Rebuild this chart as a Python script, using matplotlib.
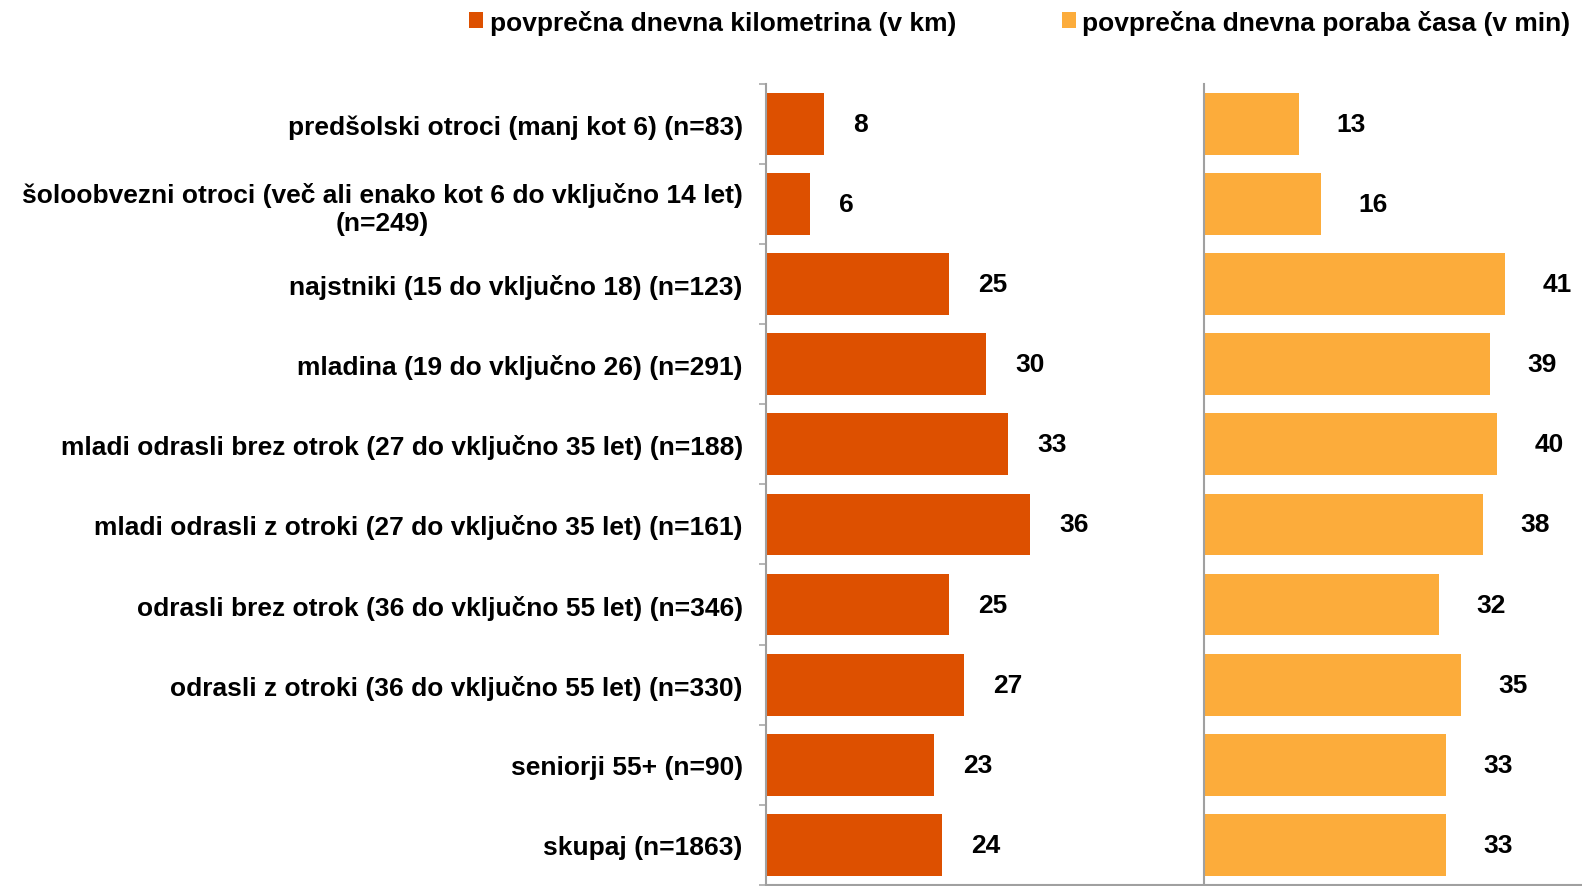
import matplotlib.pyplot as plt
import numpy as np

plt.rcParams['font.family'] = ['Liberation Sans', 'DejaVu Sans']
plt.rcParams['font.weight'] = 'bold'

# podatki
skupine = ['predšolski otroci (manj kot 6) (n=83)',
           'šoloobvezni otroci (več ali enako kot 6 do vključno 14 let)\n(n=249)',
           'najstniki (15 do vključno 18) (n=123)',
           'mladina (19 do vključno 26) (n=291)',
           'mladi odrasli brez otrok (27 do vključno 35 let) (n=188)',
           'mladi odrasli z otroki (27 do vključno 35 let) (n=161)',
           'odrasli brez otrok (36 do vključno 55 let) (n=346)',
           'odrasli z otroki (36 do vključno 55 let) (n=330)',
           'seniorji 55+ (n=90)',
           'skupaj (n=1863)']
km = [8, 6, 25, 30, 33, 36, 25, 27, 23, 24]
minute = [13, 16, 41, 39, 40, 38, 32, 35, 33, 33]

ime_km = 'povprečna dnevna kilometrina (v km)'
ime_min = 'povprečna dnevna poraba časa (v min)'

c_km = '#DD5000'
c_min = '#FCAC3B'
c_os = '#A0A0A0'
fs = 19

W, H = 1582, 887
fig = plt.figure(figsize=(W / 100, H / 100), dpi=100)

y = np.arange(len(skupine))
px_na_enoto = 7.333

# osi: zgoraj pri 84.7 px, spodaj pri 886 px
spodaj = 1 / H
visina = (886 - 84.7) / H
ax1 = fig.add_axes([765.7 / W, spodaj, 438.3 / W, visina])
ax2 = fig.add_axes([1204 / W, spodaj, (W - 1204) / W, visina])

b1 = ax1.barh(y, km, height=0.77, color=c_km)
b2 = ax2.barh(y, minute, height=0.77, color=c_min)

ax1.set_xlim(0, 438.3 / px_na_enoto)
ax2.set_xlim(0, (W - 1204) / px_na_enoto)

for ax in (ax1, ax2):
    ax.set_ylim(len(skupine) - 0.5, -0.5)
    for s in ['top', 'right']:
        ax.spines[s].set_visible(False)
    for s in ['left', 'bottom']:
        ax.spines[s].set_color(c_os)
        ax.spines[s].set_linewidth(1.5)
    ax.set_xticks([])

ax1.bar_label(b1, labels=[str(v) for v in km], padding=21, fontsize=fs, fontweight='bold')
ax2.bar_label(b2, labels=[str(v) for v in minute], padding=27, fontsize=fs, fontweight='bold')

# kategorije
ax1.set_yticks(y)
ax1.set_yticklabels(skupine, fontsize=fs, fontweight='bold')
for t in ax1.get_yticklabels():
    t.set_multialignment('center')
ax1.tick_params(axis='y', which='major', length=0, pad=16.5)
ax1.set_yticks(np.arange(len(skupine) + 1) - 0.5, minor=True)
ax1.tick_params(axis='y', which='minor', length=5, width=1.1, color=c_os)
ax2.set_yticks([])

fig.legend([b1, b2], [ime_km, ime_min], ncol=2, frameon=False,
           loc='center left', bbox_to_anchor=(469 / W, 1 - 23 / H),
           fontsize=fs, borderpad=0, borderaxespad=0,
           handlelength=0.53, handleheight=0.53, handletextpad=0.25,
           columnspacing=4.0)

fig.savefig('out.png', dpi=100)
